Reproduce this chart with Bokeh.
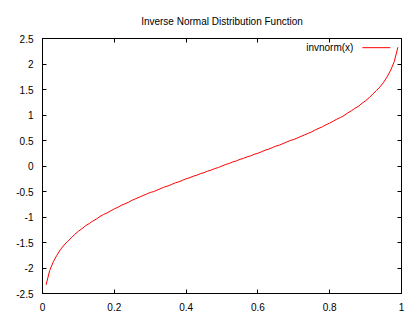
from bokeh.plotting import figure
from bokeh.models import LinearAxis, FixedTicker, Range1d, Label, Arrow, CustomJSTickFormatter
from bokeh.embed import file_html
from bokeh.resources import INLINE

title_text = "Inverse Normal Distribution Function"
series_name = "invnorm(x)"

x_vals = [0.01, 0.02, 0.03, 0.04, 0.05, 0.06, 0.07, 0.08, 0.09, 0.10,
          0.11, 0.12, 0.13, 0.14, 0.15, 0.16, 0.17, 0.18, 0.19, 0.20,
          0.21, 0.22, 0.23, 0.24, 0.25, 0.26, 0.27, 0.28, 0.29, 0.30,
          0.31, 0.32, 0.33, 0.34, 0.35, 0.36, 0.37, 0.38, 0.39, 0.40,
          0.41, 0.42, 0.43, 0.44, 0.45, 0.46, 0.47, 0.48, 0.49, 0.50,
          0.51, 0.52, 0.53, 0.54, 0.55, 0.56, 0.57, 0.58, 0.59, 0.60,
          0.61, 0.62, 0.63, 0.64, 0.65, 0.66, 0.67, 0.68, 0.69, 0.70,
          0.71, 0.72, 0.73, 0.74, 0.75, 0.76, 0.77, 0.78, 0.79, 0.80,
          0.81, 0.82, 0.83, 0.84, 0.85, 0.86, 0.87, 0.88, 0.89, 0.90,
          0.91, 0.92, 0.93, 0.94, 0.95, 0.96, 0.97, 0.98, 0.99]

y_vals = [-2.33, -2.05, -1.88, -1.75, -1.64, -1.55, -1.48, -1.41, -1.34, -1.28,
          -1.23, -1.17, -1.13, -1.08, -1.04, -0.99, -0.95, -0.92, -0.88, -0.84,
          -0.81, -0.77, -0.74, -0.71, -0.67, -0.64, -0.61, -0.58, -0.55, -0.52,
          -0.50, -0.47, -0.44, -0.41, -0.39, -0.36, -0.33, -0.31, -0.28, -0.25,
          -0.23, -0.20, -0.18, -0.15, -0.13, -0.10, -0.08, -0.05, -0.03, 0.00,
          0.03, 0.05, 0.08, 0.10, 0.13, 0.15, 0.18, 0.20, 0.23, 0.25,
          0.28, 0.31, 0.33, 0.36, 0.39, 0.41, 0.44, 0.47, 0.50, 0.52,
          0.55, 0.58, 0.61, 0.64, 0.67, 0.71, 0.74, 0.77, 0.81, 0.84,
          0.88, 0.92, 0.95, 0.99, 1.04, 1.08, 1.13, 1.17, 1.23, 1.28,
          1.34, 1.41, 1.48, 1.55, 1.64, 1.75, 1.88, 2.05, 2.33]

x_ticks = [0.0, 0.2, 0.4, 0.6, 0.8, 1.0]
x_tick_labels = ["0", "0.2", "0.4", "0.6", "0.8", "1"]
y_ticks = [-2.5, -2.0, -1.5, -1.0, -0.5, 0.0, 0.5, 1.0, 1.5, 2.0, 2.5]
y_tick_labels = ["-2.5", "-2", "-1.5", "-1", "-0.5", "0", "0.5", "1", "1.5", "2", "2.5"]

FONT = "Liberation Sans"

p = figure(width=420, height=320, output_backend="svg", toolbar_location=None,
           x_range=Range1d(0, 1), y_range=Range1d(-2.5, 2.5),
           min_border_left=42, min_border_right=19, min_border_top=38, min_border_bottom=27,
           x_axis_type=None, y_axis_type=None)
p.background_fill_color = "white"
p.border_fill_color = "white"
p.outline_line_color = "black"
p.outline_line_width = 1
p.xgrid.visible = False
p.ygrid.visible = False


def style_axis(ax, ticks, labels, show_labels, standoff):
    ax.ticker = FixedTicker(ticks=ticks)
    ax.major_tick_in = 4
    ax.major_tick_out = 0
    ax.minor_tick_in = 0
    ax.minor_tick_out = 0
    ax.axis_line_color = "black"
    ax.major_tick_line_color = "black"
    ax.major_label_text_font = FONT
    ax.major_label_text_color = "black"
    ax.major_label_text_font_size = "10px"
    ax.major_label_standoff = standoff
    if show_labels:
        ax.major_label_overrides = {t: l for t, l in zip(ticks, labels)}
    else:
        ax.formatter = CustomJSTickFormatter(code="return ''")


bottom = LinearAxis()
style_axis(bottom, x_ticks, x_tick_labels, True, 9)
p.add_layout(bottom, "below")
left = LinearAxis()
style_axis(left, y_ticks, y_tick_labels, True, 9)
p.add_layout(left, "left")
top = LinearAxis()
style_axis(top, x_ticks, x_tick_labels, False, 0)
top.axis_label = title_text
top.axis_label_text_font = FONT
top.axis_label_text_font_size = "10px"
top.axis_label_text_font_style = "normal"
top.axis_label_text_color = "black"
top.axis_label_standoff = 12
p.add_layout(top, "above")
right = LinearAxis()
style_axis(right, y_ticks, y_tick_labels, False, 0)
p.add_layout(right, "right")

p.line(x_vals, y_vals, line_color="#ff0000", line_width=1)

# gnuplot-style key: text on the left, sample on the right
p.add_layout(Label(x=0.866, y=2.32, text=series_name, text_align="right",
                   text_baseline="middle", text_font=FONT, text_font_size="10px",
                   text_color="black"))
p.add_layout(Arrow(x_start=0.891, y_start=2.32, x_end=0.969, y_end=2.32,
                   end=None, start=None, line_color="#ff0000", line_width=1))

open("out.html", "w").write(file_html(p, INLINE))
